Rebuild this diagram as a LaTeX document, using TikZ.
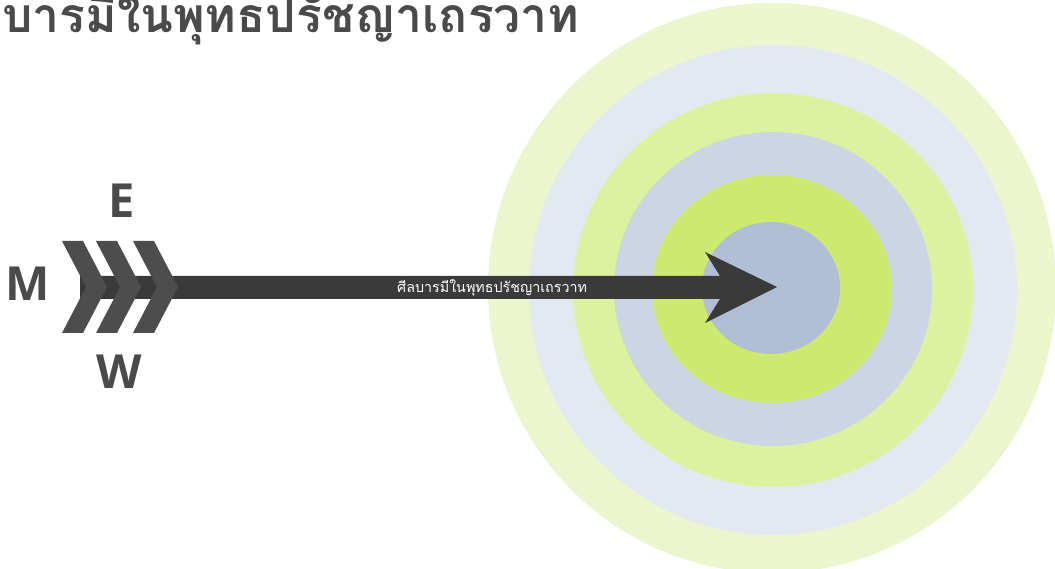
\documentclass[tikz,border=0pt]{standalone}
\usepackage{fontspec}
\newfontfamily\thaifont[Script=Thai]{Loma}
\newfontfamily\labelfont{Open Sans}
\definecolor{ring1}{HTML}{EBF6CE}
\definecolor{ring2}{HTML}{E4E9F1}
\definecolor{ring3}{HTML}{DCF29E}
\definecolor{ring4}{HTML}{CBD5E3}
\definecolor{ring5}{HTML}{CDE96E}
\definecolor{ring6}{HTML}{B1BFD6}
\definecolor{shaftc}{HTML}{3A3A3A}
\definecolor{chevc}{HTML}{4D4D4D}
\definecolor{textc}{HTML}{4A4A4A}
\tikzset{
  ringfill/.style={fill=#1, draw=none},
  chevron/.style={fill=chevc, draw=none},
  compass/.style={font=\labelfont\bfseries\fontsize{47}{47}\selectfont, text=textc, inner sep=0pt},
}
\begin{document}
\begin{tikzpicture}[x=1pt,y=-1pt]
\useasboundingbox (0,0) rectangle (1055,569);
\fill[white] (0,0) rectangle (1055,569);
\begin{scope}
\clip (0,0) rectangle (1055,569);
\fill[ringfill=ring1] (772,288) ellipse [x radius=284, y radius=285];
\fill[ringfill=ring2] (773,290) ellipse [x radius=244, y radius=245];
\fill[ringfill=ring3] (773,290) ellipse [x radius=200, y radius=197];
\fill[ringfill=ring4] (773,289) ellipse [x radius=159, y radius=157];
\fill[ringfill=ring5] (772,289) ellipse [x radius=120, y radius=114];
\fill[ringfill=ring6] (771,288) ellipse [x radius=69, y radius=66];
\end{scope}
% arrow
\coordinate (tail) at (80,287.5);
\coordinate (tip) at (777,287);
\fill[shaftc] (80,276) -- (720,276) -- (705,252) -- (tip) -- (705,323) -- (720,299) -- (80,299) -- cycle;
% chevrons
\foreach \x in {62,96,133}{
  \fill[chevron] (\x,241) -- (\x+21,241) -- (\x+45,287) -- (\x+21,333) -- (\x,333) -- (\x+24,287) -- cycle;
}
\node[compass] (E) at (122,201) {E};
\node[compass] (M) at (28,284) {M};
\node[compass] (W) at (119,372) {W};
\node[anchor=base west, inner sep=0pt, text=textc, font=\thaifont\bfseries\fontsize{48}{48}\selectfont] (title) at (2,33) {บารมีในพุทธปรัชญาเถรวาท};
\node[anchor=west, inner sep=0pt, text=white, font=\thaifont\fontsize{14.3}{14.3}\selectfont] (label) at (397,288) {ศีลบารมีในพุทธปรัชญาเถรวาท};
\end{tikzpicture}
\end{document}
